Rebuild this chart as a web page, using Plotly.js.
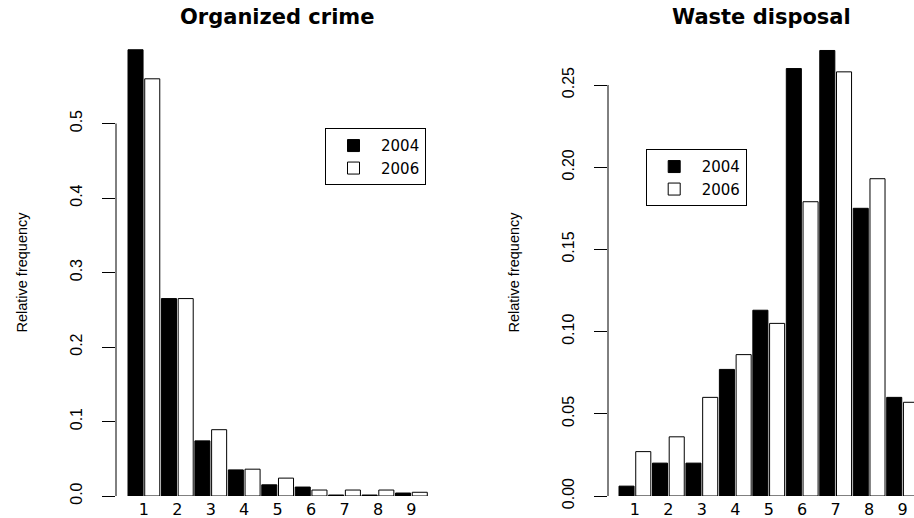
<!DOCTYPE html>
<html>
<head>
<meta charset="utf-8">
<script src="https://cdn.plot.ly/plotly-3.0.1.min.js"></script>
<style>html,body{margin:0;padding:0;background:#fff;}#chart{width:914px;height:518px;}</style>
</head>
<body>
<div id="chart"></div>
<script>
// ---- data ----
const categories = ["1", "2", "3", "4", "5", "6", "7", "8", "9"];
const years = ["2004", "2006"];
const crime2004 = [0.599, 0.265, 0.074, 0.035, 0.015, 0.012, 0.0013, 0.0013, 0.004];
const crime2006 = [0.560, 0.265, 0.089, 0.036, 0.024, 0.008, 0.008, 0.008, 0.005];
const waste2004 = [0.006, 0.020, 0.020, 0.077, 0.113, 0.260, 0.271, 0.175, 0.060];
const waste2006 = [0.027, 0.036, 0.060, 0.086, 0.105, 0.179, 0.258, 0.193, 0.057];
const crimeTicks = [0, 0.1, 0.2, 0.3, 0.4, 0.5];
const wasteTicks = [0, 0.05, 0.10, 0.15, 0.20, 0.25];
const panelTitles = ["Organized crime", "Waste disposal"];
const yTitle = "Relative frequency";

// ---- styling ----
const sans = "Liberation Sans, Arial, sans-serif";
const wide = "DejaVu Sans, Liberation Sans, sans-serif";
const BW = 0.45, GAP = 0.05;

function bar(x, y, name, fill, xa, ya, leg) {
  return {
    type: "bar", x: x, y: y, name: name, xaxis: xa, yaxis: ya, legend: leg,
    width: BW, offset: name === years[0] ? -(BW + GAP / 2) : GAP / 2,
    marker: {color: fill, line: {color: "#000", width: 1}},
    hoverinfo: "skip"
  };
}

const data = [
  bar(categories, crime2004, years[0], "#000", "x", "y", "legend"),
  bar(categories, crime2006, years[1], "#fff", "x", "y", "legend"),
  bar(categories, waste2004, years[0], "#000", "x2", "y2", "legend2"),
  bar(categories, waste2006, years[1], "#fff", "x2", "y2", "legend2")
];

const yDom = [22 / 518, 469 / 518];

function xaxis(dom, range, anchor) {
  return {
    domain: dom, anchor: anchor, type: "category", range: range,
    showline: false, showgrid: false, zeroline: false, ticks: "",
    tickfont: {family: wide, size: 16, color: "#000"},
    ticklabelstandoff: 2, fixedrange: true
  };
}
function yaxis(range, ticks, fmt, anchor) {
  return {
    domain: yDom, anchor: anchor, range: range,
    tickvals: ticks, tickformat: fmt, ticks: "outside", ticklen: 13, tickwidth: 1, tickcolor: "#000",
    tickangle: -90, tickfont: {family: sans, size: 16, color: "#000"},
    ticklabelstandoff: 14,
    showline: false, showgrid: false, zeroline: false, fixedrange: true,
    title: {text: yTitle, font: {family: sans, size: 14.5, color: "#000"}, standoff: 36}
  };
}

const legendStyle = (x, y) => ({
  x: x, y: y, xanchor: "left", yanchor: "top",
  bordercolor: "#000", borderwidth: 1, bgcolor: "#fff",
  font: {family: wide, size: 15, color: "#000"},
  itemwidth: 45, traceorder: "normal", tracegroupgap: 0
});

const layout = {
  width: 914, height: 518,
  margin: {l: 0, r: 0, t: 0, b: 0},
  paper_bgcolor: "#fff", plot_bgcolor: "#fff",
  showlegend: true,
  xaxis: xaxis([116 / 914, 439.3 / 914], [-0.834, 8.834], "y"),
  yaxis: yaxis([0, 0.6], crimeTicks, ".1f", "x"),
  xaxis2: xaxis([608 / 914, 1], [-0.804, 8.341], "y2"),
  yaxis2: yaxis([0, 0.2719], wasteTicks, ".2f", "x2"),
  legend: legendStyle(325 / 914, (518 - 128.3) / 518),
  legend2: legendStyle(645.7 / 914, (518 - 149.3) / 518),
  shapes: [
    {type: "line", xref: "x domain", yref: "y", x0: 0, x1: 0, y0: crimeTicks[0], y1: crimeTicks[crimeTicks.length - 1], line: {color: "#000", width: 1}},
    {type: "line", xref: "x2 domain", yref: "y2", x0: 0, x1: 0, y0: wasteTicks[0], y1: wasteTicks[wasteTicks.length - 1], line: {color: "#000", width: 1}}
  ],
  annotations: panelTitles.map((t, i) => ({
    text: t, xref: i === 0 ? "x domain" : "x2 domain", yref: "paper",
    x: 0.5, y: (518 - 17) / 518, xanchor: "center", yanchor: "middle",
    showarrow: false, font: {family: "DejaVu Sans, Liberation Sans, sans-serif", size: 21, weight: "bold", color: "#000"}
  }))
};

Plotly.newPlot("chart", data, layout, {staticPlot: true, displayModeBar: false});
</script>
</body>
</html>
